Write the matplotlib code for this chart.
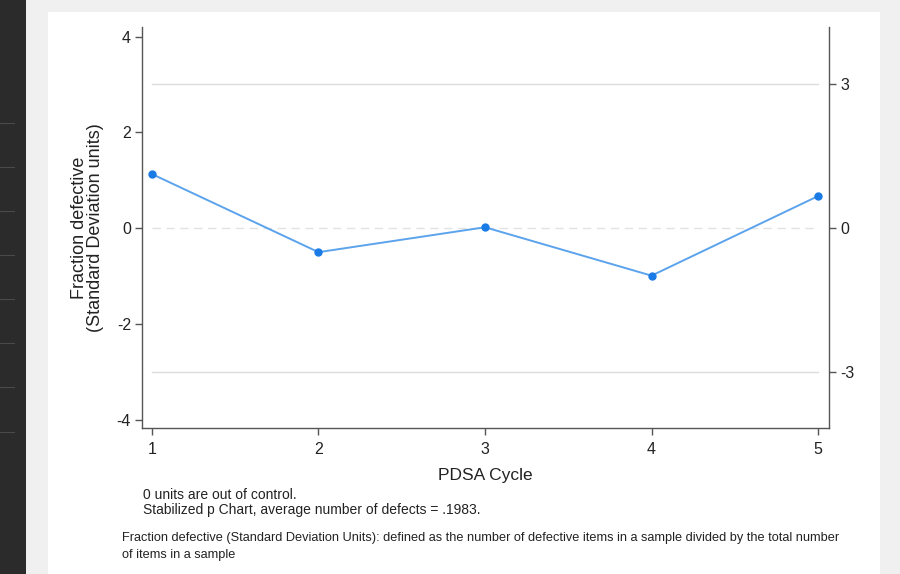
import matplotlib
matplotlib.use('Agg')
import matplotlib.pyplot as plt
from matplotlib.patches import Rectangle
from matplotlib.lines import Line2D

plt.rcParams['font.family'] = ['Liberation Sans', 'DejaVu Sans']
plt.rcParams['axes.unicode_minus'] = False

# data
cycles = [1, 2, 3, 4, 5]
fraction_sd = [1.13, -0.50, 0.02, -0.99, 0.67]
left_ticks = [-4, -2, 0, 2, 4]
right_ticks = [-3, 0, 3]
control_limits = [-3, 3]

W, H = 900, 574
fig = plt.figure(figsize=(W / 100, H / 100), dpi=100)
fig.patch.set_facecolor('#f0f0f0')

# dark sidebar + white panel (screenshot background)
fig.patches.append(Rectangle((0, 0), 26 / W, 1, transform=fig.transFigure,
                             facecolor='#2b2b2b', edgecolor='none', zorder=-2))
for yy in [123, 167, 211, 255, 299, 343, 387, 432]:
    fig.lines.append(Line2D([0, 14 / W], [1 - yy / H] * 2, transform=fig.transFigure,
                            color='#4a4a4a', lw=0.8, zorder=-1))
fig.patches.append(Rectangle((48 / W, 0), (880 - 48) / W, 1 - 12 / H,
                             transform=fig.transFigure, facecolor='white',
                             edgecolor='none', zorder=-2))

ax = fig.add_axes([142 / W, 1 - 428 / H, (829 - 142) / W, (428 - 27) / H])
ax.patch.set_alpha(0)

ax.set_xlim(0.94, 5.066)
ax.set_ylim(-4.17, 4.2)

# control limits and center line
for cl in control_limits:
    ax.plot([cycles[0], cycles[-1]], [cl, cl], color='#dcdcdc', lw=1.0, zorder=1)
ax.plot([cycles[0], cycles[-1]], [0, 0], color='#e2e2e2', lw=1.0,
        dashes=(6, 4), zorder=1)

ax.plot(cycles, fraction_sd, color='#5ba3ec', lw=1.4, zorder=2)
ax.plot(cycles, fraction_sd, 'o', color='#1a7be6', ms=5, zorder=3)

ax.spines['top'].set_visible(False)
for s in ['left', 'bottom', 'right']:
    ax.spines[s].set_color('#555555')
    ax.spines[s].set_linewidth(1.0)

ax.set_xticks(cycles)
ax.set_yticks(left_ticks)
ax.tick_params(axis='both', colors='#555555', labelcolor='#222222',
               labelsize=11.5, length=5, width=1.0, pad=3)
ax.tick_params(axis='x', pad=5)
ax.set_xlabel('PDSA Cycle', fontsize=12.5, color='#222222', labelpad=8)
ax.set_ylabel('Fraction defective\n(Standard Deviation units)', fontsize=13,
              color='#222222', labelpad=9, linespacing=0.95)

ax2 = ax.twinx()
ax2.set_ylim(ax.get_ylim())
ax2.set_yticks(right_ticks)
ax2.tick_params(axis='y', colors='#555555', labelcolor='#222222',
                labelsize=11.5, length=5, width=1.0, pad=3)
for s in ax2.spines.values():
    s.set_visible(False)

fig.text(143 / W, 1 - 495 / H, '0 units are out of control.', fontsize=10,
         color='#222222', va='center')
fig.text(143 / W, 1 - 510 / H, 'Stabilized p Chart, average number of defects = .1983.',
         fontsize=10, color='#222222', va='center')
fig.text(122 / W, 1 - 538 / H,
         'Fraction defective (Standard Deviation Units): defined as the number of '
         'defective items in a sample divided by the total number',
         fontsize=9.2, color='#222222', va='center')
fig.text(122 / W, 1 - 555 / H, 'of items in a sample', fontsize=9.2,
         color='#222222', va='center')

fig.savefig('out.png', dpi=100, facecolor=fig.get_facecolor())
